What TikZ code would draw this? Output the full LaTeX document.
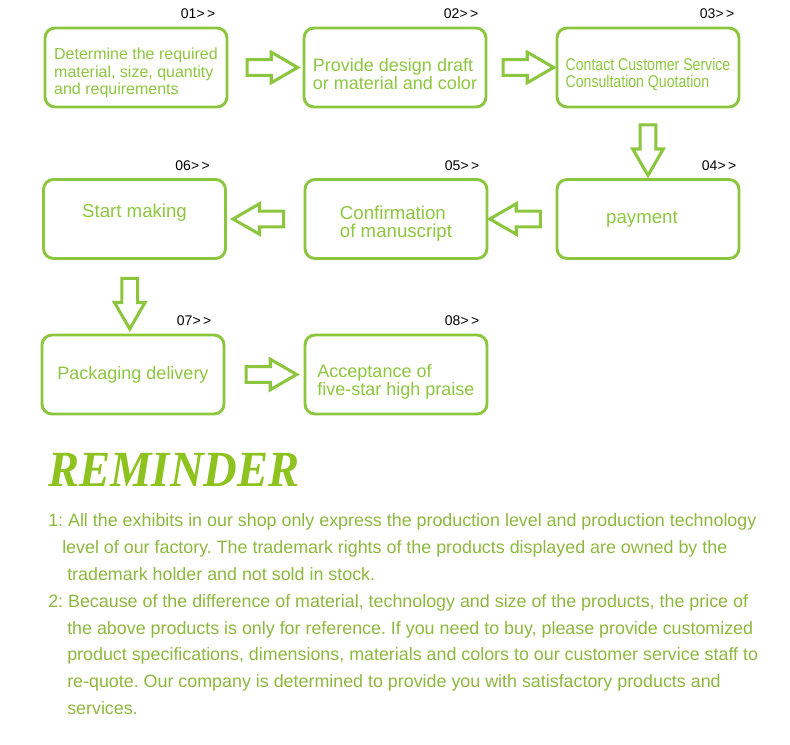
\documentclass[tikz,border=0pt]{standalone}
\usepackage{fontspec}
\setmainfont{Liberation Sans}
\newfontfamily\narrowfont[FakeStretch=0.83]{Liberation Sans}
\newfontfamily\titlefont[FakeStretch=0.92]{Liberation Serif}
\usepackage{xcolor}
\usepackage{tikz}
\usetikzlibrary{positioning, shapes, arrows.meta, calc}
\frenchspacing

\definecolor{framegreen}{HTML}{8CC63F}
\definecolor{boxtext}{HTML}{8DC63F}
\definecolor{notegreen}{HTML}{8DB83E}
\definecolor{titlegreen}{HTML}{8DC21F}

\newcommand{\stepno}[1]{#1{>}\,{>}}
\newcommand{\lowerby}[1]{\rule{0pt}{#1}}

\tikzset{
  stepbox/.style={draw=framegreen, line width=2.2pt, rounded corners=7.5pt,
    minimum width=136.5pt, minimum height=59.25pt, align=left, text=boxtext, inner sep=2pt},
  blockarrow/.style={single arrow, draw=framegreen, line width=2.3pt, fill=white,
    minimum height=38pt, inner sep=4.8pt, single arrow head extend=5.5pt, single arrow tip angle=60},
  steplabel/.style={anchor=base east, inner sep=0pt, font=\fontsize{10.5}{12}\selectfont},
  noteline/.style={anchor=base west, inner sep=0pt, text=notegreen, font=\fontsize{13.4}{15}\selectfont}
}

\begin{document}
\begin{tikzpicture}[x=0.75pt, y=-0.75pt]
  \useasboundingbox (0,0) rectangle (790,745);

  % steps
  \node[stepbox, font=\fontsize{12}{13.1}\selectfont] (b1) at (136,67.5)
    {\lowerby{17pt}Determine the required\\material, size, quantity\\and requirements};
  \node[stepbox, font=\fontsize{13.5}{13.5}\selectfont] (b2) at (395,67.5)
    {\lowerby{19.5pt}Provide design draft\\or material and color};
  \node[stepbox, font=\narrowfont\fontsize{12.75}{12.75}\selectfont] (b3) at (648,67.5)
    {\lowerby{19pt}Contact Customer Service\\Consultation Quotation};
  \node[stepbox, font=\fontsize{14}{14}\selectfont] (b4) at (648,219) {\hspace*{-9pt}payment};
  \node[stepbox, font=\fontsize{14}{13.5}\selectfont] (b5) at (396,219)
    {\lowerby{17pt}Confirmation\\of manuscript};
  \node[stepbox, font=\fontsize{14}{14}\selectfont] (b6) at (134.5,219)
    {\rule[-12pt]{0pt}{12pt}Start making};
  \node[stepbox, font=\fontsize{13.5}{13.5}\selectfont] (b7) at (133,374.5)
    {Packaging delivery};
  \node[stepbox, font=\fontsize{13.5}{13.5}\selectfont] (b8) at (396,374.5)
    {\lowerby{21pt}Acceptance of\\five-star high praise};

  % step numbers
  \node[steplabel] (n1) at ($(b1.north east)+(-13,-8)$) {\stepno{01}};
  \node[steplabel] (n2) at ($(b2.north east)+(-9,-8)$) {\stepno{02}};
  \node[steplabel] (n3) at ($(b3.north east)+(-6,-8)$) {\stepno{03}};
  \node[steplabel] (n4) at ($(b4.north east)+(-4,-8)$) {\stepno{04}};
  \node[steplabel] (n5) at ($(b5.north east)+(-9,-8)$) {\stepno{05}};
  \node[steplabel] (n6) at ($(b6.north east)+(-17,-8)$) {\stepno{06}};
  \node[steplabel] (n7) at ($(b7.north east)+(-14,-8)$) {\stepno{07}};
  \node[steplabel] (n8) at ($(b8.north east)+(-9,-8)$) {\stepno{08}};

  % flow arrows
  \node[blockarrow] (a12) at ($(b1.east)!0.5!(b2.west)$) {};
  \node[blockarrow] (a23) at ($(b2.east)!0.5!(b3.west)$) {};
  \node[blockarrow, shape border rotate=270] (a34) at ($(b3.south)!0.5!(b4.north)$) {};
  \node[blockarrow, shape border rotate=180] (a45) at ($(b4.west)!0.5!(b5.east)$) {};
  \node[blockarrow, shape border rotate=180] (a56) at ($(b5.west)!0.5!(b6.east)$) {};
  \node[blockarrow, shape border rotate=270] (a67) at ($(b6.south)!0.5!(b7.north)+(-4,0)$) {};
  \node[blockarrow] (a78) at ($(b7.east)!0.5!(b8.west)$) {};

  % reminder
  \node[anchor=base west, inner sep=0pt, text=titlegreen,
    font=\titlefont\bfseries\itshape\fontsize{38}{40}\selectfont] (reminder) at (48,487) {REMINDER};
  \foreach \lx/\ly/\ltext [count=\i] in {
    48/527/{1: All the exhibits in our shop only express the production level and production technology},
    62/554/{level of our factory. The trademark rights of the products displayed are owned by the},
    67/580.5/{trademark holder and not sold in stock.},
    48/607/{2: Because of the difference of material, technology and size of the products, the price of},
    67/634/{the above products is only for reference. If you need to buy, please provide customized},
    67/660.5/{product specifications, dimensions, materials and colors to our customer service staff to},
    67/687/{re-quote. Our company is determined to provide you with satisfactory products and},
    67/714/{services.}}
    \node[noteline] (note\i) at (\lx,\ly) {\ltext};
\end{tikzpicture}
\end{document}
